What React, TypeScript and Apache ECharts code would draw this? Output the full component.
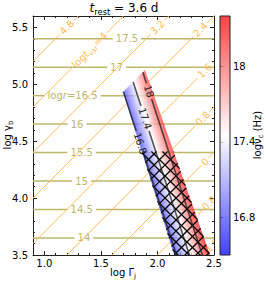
import React, { useEffect, useRef } from 'react';
import * as echarts from 'echarts';

const FONT = 'DejaVu Sans';
const OLIVE = '#bdb76b';
const ORANGE = '#ffbb55';
const INK = '#222';

// axes
const xRange = [0.9, 2.5];
const yRange = [3.5, 5.6];
const xMajorTicks = [1.0, 1.5, 2.0, 2.5];
const yMajorTicks = [3.5, 4.0, 4.5, 5.0, 5.5];

// log r contours (horizontal lines): level, y position, label x
const logrLevels = [14, 14.5, 15, 15.5, 16, 16.5, 17, 17.5];
const logrY = [3.65, 3.9, 4.15, 4.4, 4.65, 4.9, 5.15, 5.4];
const logrLabelX = [1.35, 1.33, 1.33, 1.33, 1.29, 1.25, 1.64, 1.73];
const logrNamedLevel = 16.5;

// log t_var contours: log gamma_b = log Gamma + offset
const tvarLevels = [4.8, 4.0, 3.2, 2.4, 1.6, 0.8, 0, -0.8, -1.6];
const tvarOffset = [4.3, 3.9, 3.5, 3.1, 2.7, 2.3, 1.9, 1.5, 1.1];
const tvarLabelX = [1.2, 1.4, 2.0, 2.38, 2.42, 2.4, 2.42, 2.43, 2.46];
const tvarNamedLevel = 4.0;

// allowed band (polygon vertices)
const bandX = [1.696, 1.89, 2.5, 2.18];
const bandY = [4.932, 5.125, 3.4, 3.4];
const hatchTopY = 4.41;

// log nu_c field: a*logGamma + b*logGamma_b + d
const nuCoef = [5.26, 1.72, -0.626];
const nuLevels = [16.8, 17.4, 18.0];
const nuLabelY = [4.48, 4.7, 4.94];
const nuRange = [16.5, 18.4];
const colorbarTicks = [16.8, 17.4, 18.0];

const BAND_ALPHA = 0.74;
const HATCH_STEP = 11;

type Seg = { k: 'n' | 'i' | 's'; s: string };
const SEG_SIZE: Record<string, number> = { n: 10, i: 10, s: 7 };

let measureCtx: CanvasRenderingContext2D | null = null;
function textWidth(s: string, size: number, italic: boolean) {
  if (!measureCtx) measureCtx = document.createElement('canvas').getContext('2d');
  if (!measureCtx) return s.length * size * 0.6;
  measureCtx.font = `${italic ? 'italic ' : ''}${size}px "${FONT}"`;
  return measureCtx.measureText(s).width;
}
function makeLabel(segs: Seg[]) {
  let w = 0;
  segs.forEach((g) => (w += textWidth(g.s, SEG_SIZE[g.k], g.k === 'i')));
  return { markup: segs.map((g) => `{${g.k}|${g.s}}`).join(''), width: w };
}
function fmtNum(v: number) {
  return (Math.round(v * 10) / 10).toString().replace('-', '\u2212');
}
function richZr(color: string, size = 10) {
  return {
    n: { fill: color, fontFamily: FONT, fontSize: size, lineHeight: size + 4 },
    i: { fill: color, fontFamily: FONT, fontSize: size, fontStyle: 'italic', lineHeight: size + 4 },
    s: { fill: color, fontFamily: FONT, fontSize: size * 0.7, verticalAlign: 'bottom' },
  };
}

function clipHalf(poly: number[][], f: (p: number[]) => number) {
  const out: number[][] = [];
  for (let i = 0; i < poly.length; i++) {
    const P = poly[i];
    const Q = poly[(i + 1) % poly.length];
    const fp = f(P);
    const fq = f(Q);
    if (fp <= 0) out.push(P);
    if ((fp < 0 && fq > 0) || (fp > 0 && fq < 0)) {
      const t = fp / (fp - fq);
      out.push([P[0] + t * (Q[0] - P[0]), P[1] + t * (Q[1] - P[1])]);
    }
  }
  return out;
}
function lineThroughPoly(poly: number[][], nx: number, ny: number, k: number) {
  const pts: number[][] = [];
  for (let i = 0; i < poly.length; i++) {
    const P = poly[i];
    const Q = poly[(i + 1) % poly.length];
    const fp = nx * P[0] + ny * P[1] - k;
    const fq = nx * Q[0] + ny * Q[1] - k;
    if (fp === 0) pts.push(P);
    if ((fp < 0 && fq > 0) || (fp > 0 && fq < 0)) {
      const t = fp / (fp - fq);
      pts.push([P[0] + t * (Q[0] - P[0]), P[1] + t * (Q[1] - P[1])]);
    }
  }
  if (pts.length < 2) return null;
  const dx = -ny;
  const dy = nx;
  pts.sort((a, b) => a[0] * dx + a[1] * dy - (b[0] * dx + b[1] * dy));
  return [pts[0], pts[pts.length - 1]];
}
function readableAngle(p0: number[], p1: number[]) {
  let a = Math.atan2(-(p1[1] - p0[1]), p1[0] - p0[0]);
  if (a > Math.PI / 2) a -= Math.PI;
  if (a < -Math.PI / 2) a += Math.PI;
  return a;
}
function gapLine(p0: number[], p1: number[], c: number[], g: number, style: any) {
  const dx = p1[0] - p0[0];
  const dy = p1[1] - p0[1];
  const L = Math.hypot(dx, dy);
  const ux = dx / L;
  const uy = dy / L;
  const t = (c[0] - p0[0]) * ux + (c[1] - p0[1]) * uy;
  const out: any[] = [];
  const seg = (a: number, b: number) => ({
    type: 'line',
    shape: { x1: p0[0] + ux * a, y1: p0[1] + uy * a, x2: p0[0] + ux * b, y2: p0[1] + uy * b },
    style,
  });
  if (t - g > 0) out.push(seg(0, Math.min(t - g, L)));
  if (t + g < L) out.push(seg(Math.max(0, t + g), L));
  return out;
}

const bwrStops = [
  { offset: 0, color: '#0000ff' },
  { offset: 0.5, color: '#ffffff' },
  { offset: 1, color: '#ff0000' },
];

function buildOption(): any {
  const bandPoly = bandX.map((x, i) => [x, bandY[i]]);
  const [na, nb, nd] = nuCoef;
  const nuAt = (p: number[]) => na * p[0] + nb * p[1] + nd;

  const gridRect = { left: 33, top: 16, width: 181, height: 239 };
  const tickLine = { color: INK, width: 1 };

  const majorX = (pos: string, withLabel: boolean) => ({
    type: 'value', gridIndex: 0, position: pos, min: xRange[0], max: xRange[1],
    splitLine: { show: false },
    axisLine: { show: true, onZero: false, lineStyle: { color: INK, width: 1 } },
    axisTick: { show: true, inside: true, length: 4, customValues: xMajorTicks, lineStyle: tickLine },
    axisLabel: withLabel
      ? { show: true, customValues: xMajorTicks, formatter: (v: number) => v.toFixed(1), fontFamily: FONT, fontSize: 10, color: '#000', margin: 3 }
      : { show: false },
  });
  const majorY = (pos: string, withLabel: boolean) => ({
    type: 'value', gridIndex: 0, position: pos, min: yRange[0], max: yRange[1],
    splitLine: { show: false },
    axisLine: { show: true, onZero: false, lineStyle: { color: INK, width: 1 } },
    axisTick: { show: true, inside: true, length: 4, customValues: yMajorTicks, lineStyle: tickLine },
    axisLabel: withLabel
      ? { show: true, customValues: yMajorTicks, formatter: (v: number) => v.toFixed(1), fontFamily: FONT, fontSize: 10, color: '#000', margin: 5 }
      : { show: false },
  });
  const minorX = (pos: string) => ({
    type: 'value', gridIndex: 1, position: pos, min: xRange[0], max: xRange[1], interval: 0.1,
    splitLine: { show: false }, axisLine: { show: false },
    axisTick: { show: true, inside: true, length: 2, lineStyle: tickLine }, axisLabel: { show: false },
  });
  const minorY = (pos: string) => ({
    type: 'value', gridIndex: 1, position: pos, min: yRange[0], max: yRange[1], interval: 0.1,
    splitLine: { show: false }, axisLine: { show: false },
    axisTick: { show: true, inside: true, length: 2, lineStyle: tickLine }, axisLabel: { show: false },
  });

  const oliveSeries = {
    type: 'custom', xAxisIndex: 0, yAxisIndex: 0, z: 1, clip: true, silent: true,
    data: logrY.map((y, i) => [logrLabelX[i], y]),
    renderItem: (params: any, api: any) => {
      const i = params.dataIndex;
      const y = logrY[i];
      const p0 = api.coord([xRange[0], y]);
      const p1 = api.coord([xRange[1], y]);
      const c = api.coord([logrLabelX[i], y]);
      const v = logrLevels[i];
      const lab = v === logrNamedLevel
        ? makeLabel([{ k: 'n', s: 'log' }, { k: 'i', s: 'r' }, { k: 'n', s: '=' + fmtNum(v) }])
        : makeLabel([{ k: 'n', s: fmtNum(v) }]);
      return {
        type: 'group',
        children: [
          ...gapLine(p0, p1, c, lab.width / 2 + 3, { stroke: OLIVE, lineWidth: 1.5 }),
          {
            type: 'text', x: c[0], y: c[1],
            style: { text: lab.markup, rich: richZr(OLIVE), align: 'center', verticalAlign: 'middle', fill: OLIVE, fontFamily: FONT, fontSize: 10 },
          },
        ],
      };
    },
  };

  const orangeSeries = {
    type: 'custom', xAxisIndex: 0, yAxisIndex: 0, z: 1, clip: true, silent: true,
    data: tvarOffset.map((c, i) => [tvarLabelX[i], tvarLabelX[i] + c]),
    renderItem: (params: any, api: any) => {
      const i = params.dataIndex;
      const off = tvarOffset[i];
      const xa = Math.max(xRange[0], yRange[0] - off);
      const xb = Math.min(xRange[1], yRange[1] - off);
      if (xa >= xb) return null;
      const p0 = api.coord([xa, xa + off]);
      const p1 = api.coord([xb, xb + off]);
      const lx = tvarLabelX[i];
      const c = api.coord([lx, lx + off]);
      const v = tvarLevels[i];
      const lab = v === tvarNamedLevel
        ? makeLabel([{ k: 'n', s: 'log' }, { k: 'i', s: 't' }, { k: 's', s: 'var' }, { k: 'n', s: '=' + fmtNum(v) }])
        : makeLabel([{ k: 'n', s: fmtNum(v) }]);
      return {
        type: 'group',
        children: [
          ...gapLine(p0, p1, c, lab.width / 2 + 2, { stroke: ORANGE, lineWidth: 1 }),
          {
            type: 'text', x: c[0], y: c[1], rotation: readableAngle(p0, p1),
            style: { text: lab.markup, rich: richZr(ORANGE), align: 'center', verticalAlign: 'middle', fill: ORANGE, fontFamily: FONT, fontSize: 10 },
          },
        ],
      };
    },
  };

  const bandSeries = {
    type: 'custom', xAxisIndex: 0, yAxisIndex: 0, z: 2, clip: true, silent: true,
    data: [[bandX[0], bandY[0]]],
    renderItem: (params: any, api: any) => {
      const pts = bandPoly.map((p) => api.coord(p));
      const q0 = api.coord([xRange[0], yRange[0]]);
      const q1 = api.coord([xRange[1], yRange[1]]);
      const sx = (q1[0] - q0[0]) / (xRange[1] - xRange[0]);
      const sy = (q1[1] - q0[1]) / (yRange[1] - yRange[0]);
      const gx = na / sx;
      const gy = nb / sy;
      const g2 = gx * gx + gy * gy;
      const P = pts[0];
      const nuP = nuAt(bandPoly[0]);
      const t0 = (nuRange[0] - nuP) / g2;
      const t1 = (nuRange[1] - nuP) / g2;
      const grad = new echarts.graphic.LinearGradient(
        P[0] + gx * t0, P[1] + gy * t0, P[0] + gx * t1, P[1] + gy * t1, bwrStops, true
      );
      return { type: 'polygon', shape: { points: pts }, style: { fill: grad, opacity: BAND_ALPHA } };
    },
  };

  const hatchSeries = {
    type: 'custom', xAxisIndex: 0, yAxisIndex: 0, z: 3, clip: true, silent: true,
    data: [[bandX[3], hatchTopY]],
    renderItem: (params: any, api: any) => {
      const hp = clipHalf(bandPoly, (p) => p[1] - hatchTopY).map((p) => api.coord(p));
      const children: any[] = [];
      [[1, 1], [1, -1]].forEach(([nx, ny]) => {
        const ks = hp.map((p) => nx * p[0] + ny * p[1]);
        const kmin = Math.min(...ks);
        const kmax = Math.max(...ks);
        for (let k = Math.ceil(kmin / HATCH_STEP) * HATCH_STEP; k <= kmax; k += HATCH_STEP) {
          const s = lineThroughPoly(hp, nx, ny, k);
          if (!s) continue;
          children.push({
            type: 'line',
            shape: { x1: s[0][0], y1: s[0][1], x2: s[1][0], y2: s[1][1] },
            style: { stroke: '#000', lineWidth: 1.3 },
          });
        }
      });
      return { type: 'group', children };
    },
  };

  const nuContourSeries = {
    type: 'custom', xAxisIndex: 0, yAxisIndex: 0, z: 4, clip: true, silent: true,
    data: nuLevels.map((L, i) => [(L - nd - nb * nuLabelY[i]) / na, nuLabelY[i]]),
    renderItem: (params: any, api: any) => {
      const i = params.dataIndex;
      const L = nuLevels[i];
      const s = lineThroughPoly(bandPoly, na, nb, L - nd);
      if (!s) return null;
      const p0 = api.coord(s[0]);
      const p1 = api.coord(s[1]);
      const ly = nuLabelY[i];
      const c = api.coord([(L - nd - nb * ly) / na, ly]);
      const lab = makeLabel([{ k: 'n', s: fmtNum(L) }]);
      return {
        type: 'group',
        children: [
          ...gapLine(p0, p1, c, lab.width / 2 + 2, { stroke: 'rgba(30,30,30,0.75)', lineWidth: 1.6 }),
          {
            type: 'text', x: c[0], y: c[1], rotation: readableAngle(p0, p1),
            style: { text: lab.markup, rich: richZr(INK), align: 'center', verticalAlign: 'middle', fill: INK, fontFamily: FONT, fontSize: 10 },
          },
        ],
      };
    },
  };

  const colorbarSeries = {
    type: 'custom', xAxisIndex: 4, yAxisIndex: 4, z: 2, silent: true,
    data: [[0.5, nuRange[0]]],
    renderItem: (params: any, api: any) => {
      const a = api.coord([0, nuRange[1]]);
      const b = api.coord([1, nuRange[0]]);
      const shape = { x: a[0], y: a[1], width: b[0] - a[0], height: b[1] - a[1] };
      const grad = new echarts.graphic.LinearGradient(0, 1, 0, 0, bwrStops);
      return {
        type: 'group',
        children: [
          { type: 'rect', shape, style: { fill: grad, opacity: BAND_ALPHA } },
          { type: 'rect', shape, style: { fill: 'none', stroke: INK, lineWidth: 1 } },
        ],
      };
    },
  };

  const nameText = (text: string, x: number, y: number, rotation: number, size = 10) => ({
    type: 'text', x, y, rotation,
    style: { text, rich: richZr('#000', size), align: 'center', verticalAlign: 'middle', fill: '#000', fontFamily: FONT, fontSize: size },
  });

  return {
    animation: false,
    backgroundColor: '#ffffff',
    grid: [
      { ...gridRect, outerBoundsMode: 'none', containLabel: false },
      { ...gridRect, outerBoundsMode: 'none', containLabel: false },
      { left: 220, top: 16, width: 10, height: 239, outerBoundsMode: 'none', containLabel: false },
    ],
    xAxis: [
      majorX('bottom', true),
      majorX('top', false),
      minorX('bottom'),
      minorX('top'),
      { type: 'value', gridIndex: 2, show: false, min: 0, max: 1 },
    ],
    yAxis: [
      majorY('left', true),
      majorY('right', false),
      minorY('left'),
      minorY('right'),
      {
        type: 'value', gridIndex: 2, position: 'right', min: nuRange[0], max: nuRange[1],
        splitLine: { show: false },
        axisLine: { show: false },
        axisTick: { show: true, inside: false, length: 3, customValues: colorbarTicks, lineStyle: tickLine },
        axisLabel: { show: true, customValues: colorbarTicks, formatter: (v: number) => fmtNum(v), fontFamily: FONT, fontSize: 10, color: '#000', margin: 3 },
      },
    ],
    graphic: [
      nameText('{i|t}{s|rest}{n| = 3.6 d}', 124, 8, 0, 12),
      nameText('{n|log Γ}{s|j}', 123, 272, 0),
      nameText('{n|log γ}{s|b}', 7, 135, Math.PI / 2),
      nameText('{n|logν}{s|c}{n| (Hz)}', 257, 135, Math.PI / 2),
    ],
    series: [oliveSeries, orangeSeries, bandSeries, hatchSeries, nuContourSeries, colorbarSeries],
  };
}

export default function App() {
  const ref = useRef<HTMLDivElement>(null);
  useEffect(() => {
    document.body.style.margin = '0';
    if (!ref.current) return;
    const chart = echarts.init(ref.current, null, { renderer: 'svg' });
    chart.setOption(buildOption());
    return () => chart.dispose();
  }, []);
  return <div ref={ref} style={{ width: 266, height: 281 }} />;
}
